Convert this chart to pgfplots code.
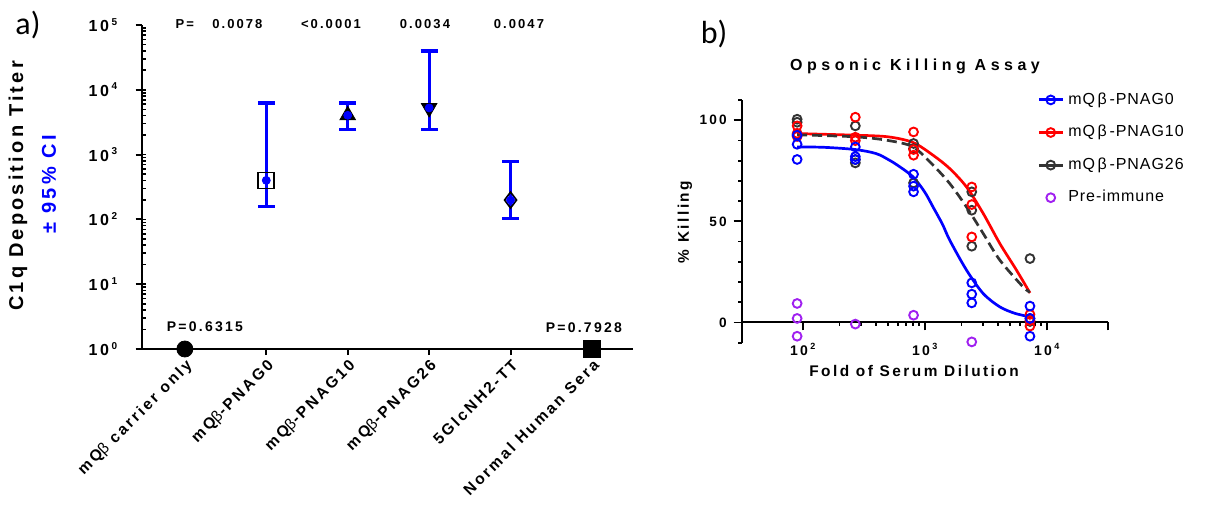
\documentclass[border=0pt]{standalone}
\usepackage{fontspec}
\setmainfont{Liberation Sans}
\newfontfamily\gp[LetterSpace=16]{Liberation Sans}
\newfontfamily\gpn[LetterSpace=6]{Liberation Sans}
\newfontfamily\gpw[LetterSpace=28]{Liberation Sans}
\newfontfamily\panelfont{Carlito}
\usepackage{pgfplots}
\pgfplotsset{compat=1.18}
\definecolor{pre}{RGB}{160,32,240}
\definecolor{dgray}{RGB}{51,51,51}
\newcommand\ex[2][5]{1\,0\,\raisebox{0.75ex}{\fontsize{#1}{#1}\selectfont #2}}
\begin{document}
\begin{tikzpicture}
\path[use as bounding box] (0,0) rectangle (612.5pt,255pt);
% panel labels and axis titles
\node[font=\panelfont\fontsize{16}{16}\selectfont] at (14pt,242.5pt) {a)};
\node[font=\panelfont\fontsize{16}{16}\selectfont] at (357pt,238pt) {b)};
\node[rotate=90,font=\gp\bfseries\fontsize{10}{10}\selectfont] at (9pt,162pt) {C1q Deposition Titer};
\node[rotate=90,font=\gp\bfseries\fontsize{10}{10}\selectfont,blue] at (24.5pt,163pt) {± 95\% CI};
\node[font=\gpw\bfseries\fontsize{8}{8}\selectfont] at (457.5pt,221.6pt) {Opsonic Killing Assay};
\node[font=\gp\bfseries\fontsize{7.7}{8}\selectfont] at (457pt,69.5pt) {Fold of Serum Dilution};
\node[rotate=90,font=\gp\bfseries\fontsize{7.7}{8}\selectfont] at (342.5pt,144pt) {\% Killing};

% ---- a) C1q deposition
\begin{axis}[at={(70.85pt,80.5pt)}, anchor=south west,
  scale only axis, width=245.5pt, height=162pt,
  ymode=log, ymin=1, ymax=1e5, xmin=-0.53, xmax=5.5,
  axis lines*=left, axis line style={line width=1pt},
  clip=false,
  xtick={0,1,2,3,4,5},
  xticklabels={mQ{\mdseries β} carrier only, mQ{\mdseries β}-PNAG0, mQ{\mdseries β}-PNAG10,
    mQ{\mdseries β}-PNAG26, 5GlcNH2-TT, Normal Human Sera},
  xticklabel style={rotate=45, anchor=north east, inner sep=1pt,
    font=\gp\bfseries\fontsize{7.8}{8}\selectfont},
  ytick={1,10,100,1000,10000,100000},
  yticklabels={\ex{0},\ex{1},\ex{2},\ex{3},\ex{4},\ex{5}},
  yticklabel style={font=\gp\bfseries\fontsize{8}{8}\selectfont, inner sep=0pt, xshift=-9pt},
  tick align=outside, major tick length=3pt, minor tick length=2pt,
  tick style={line width=1pt, black},
  minor y tick style={xshift=2pt, line width=0.8pt},
]
\addplot[only marks, mark=*, mark size=4pt, black] coordinates {(0,1)};
\addplot[only marks, mark=square*, mark size=4.25pt, black] coordinates {(5,1)};
\addplot[only marks, mark=square, mark size=4pt, black, mark options={line width=0.8pt}] coordinates {(1,400)};
\addplot[only marks, mark=triangle*, mark size=4.5pt, black] coordinates {(2,4040)};
\addplot[only marks, mark=triangle*, mark size=4.5pt, black, mark options={rotate=180}] coordinates {(3,5250)};
\addplot[only marks, mark=diamond, mark size=4pt, black, mark options={line width=0.8pt}] coordinates {(4,199)};
% 95% CI
\addplot[blue, only marks, mark=none,
  error bars/.cd, y dir=both, y explicit,
  error bar style={line width=1.6pt, blue},
  error mark options={rotate=90, mark size=4.25pt, line width=1.6pt, blue}]
  table[x=x, y=y, y error plus=ep, y error minus=em] {
  x y ep em
  1 400 5880 241
  2 4040 2240 1565
  3 5250 34550 2775
  4 199 589 97
  };
\begin{scope}[font=\gp\bfseries\fontsize{6.5}{7}\selectfont]
\node at (axis cs:0,1.035e5) {P=};
\node at (axis cs:0.645,1.035e5) {0.0078};
\node at (axis cs:1.794,1.035e5) {<0.0001};
\node at (axis cs:2.948,1.035e5) {0.0034};
\node at (axis cs:4.103,1.035e5) {0.0047};
\end{scope}
\begin{scope}[font=\gp\bfseries\fontsize{7}{7}\selectfont]
\node at (axis cs:0.246,2.18) {P=0.6315};
\node at (axis cs:4.90,2.16) {P=0.7928};
\end{scope}
\end{axis}

% ---- b) opsonic killing
\begin{axis}[at={(370.85pt,83.65pt)}, anchor=south west,
  scale only axis, width=183pt, height=121.35pt,
  xmode=log, xmin=31.62, xmax=31623, ymin=-10, ymax=110,
  axis y line=left, axis x line=middle,
  axis line style={-, line width=1pt},
  clip=false,
  ytick={0,50,100}, yticklabels={0,50,100},
  minor ytick={-10,10,20,30,40,60,70,80,90,110},
  yticklabel style={font=\gp\bfseries\fontsize{6.8}{7}\selectfont},
  xtick={100,1000,10000},
  xticklabels={\ex[4.5]{2},\ex[4.5]{3},\ex[4.5]{4}},
  extra x ticks={31623}, extra x tick labels={},
  xticklabel style={font=\gp\bfseries\fontsize{7}{7}\selectfont, yshift=-3pt},
  tick align=outside, major tick length=4pt, minor tick length=1.7pt,
  tick style={line width=0.9pt, black},
  legend style={at={(0.79,1.065)}, anchor=north west, draw=none, fill=none,
    font=\gpn\fontsize{8}{8}\selectfont, row sep=5pt,
    legend cell align=left},
  legend image code/.code={\draw[mark repeat=2, mark phase=2, #1]
    plot coordinates {(0pt,0pt) (6pt,0pt) (12pt,0pt)};},
]
\addlegendimage{blue, line width=1.5pt, mark=o, mark size=2.2pt, mark options={line width=0.95pt, fill=white}}
\addlegendentry{mQ\,β\,-PNAG0}
\addlegendimage{red, line width=1.5pt, mark=o, mark size=2.2pt, mark options={line width=0.95pt, fill=white}}
\addlegendentry{mQ\,β\,-PNAG10}
\addlegendimage{dgray, line width=1.5pt, mark=o, mark size=2.2pt, mark options={line width=0.95pt, fill=white}}
\addlegendentry{mQ\,β\,-PNAG26}
\addlegendimage{only marks, pre, mark=o, mark size=2.2pt, mark options={line width=0.95pt}}
\addlegendentry{Pre-immune}
% fitted curves
\addplot[forget plot, blue, line width=1.35pt, smooth] coordinates {
 (90,86.8) (150,86.6) (270,85.5) (400,83.5) (515,80.2) (624,77) (802,72) (1000,64.5)
 (1170,57.1) (1400,48.5) (1603,40.7) (2201,25.9) (3016,14.3) (4131,7.7) (5500,4.5) (7290,2.8)};
\addplot[forget plot, red, line width=1.35pt, smooth] coordinates {
 (90,93.4) (270,92.6) (500,91.8) (802,89) (1170,82.7) (1603,76.1) (2201,67) (3016,53.9)
 (4131,39) (5650,25.9) (7290,14.6)};
\addplot[forget plot, dgray, line width=1.35pt, dash pattern=on 5pt off 2.5pt, smooth] coordinates {
 (90,92.8) (270,91.8) (500,90) (802,86.8) (1170,77.8) (1603,68.7) (2201,57.1) (3016,44)
 (4131,30.8) (6400,17.6) (7290,15)};
% replicates
\addplot[forget plot, only marks, pre, mark=o, mark size=2.2pt, mark options={line width=0.95pt}] coordinates {
 (90,9.4) (90,2.0) (90,-6.8) (270,-0.8) (810,3.6) (2430,-9.6)};
\addplot[forget plot, only marks, dgray, mark=o, mark size=2.2pt, mark options={line width=0.95pt}] coordinates {
 (90,100.5) (90,99) (90,93) (270,97.2) (270,80.5) (270,78.9) (810,88.5) (810,86) (810,69)
 (2430,64.6) (2430,55.5) (2430,37.7) (7290,31.6) (7290,2) (7290,0.5)};
\addplot[forget plot, only marks, red, mark=o, mark size=2.2pt, mark options={line width=0.95pt}] coordinates {
 (90,97.2) (90,93.5) (90,92) (270,101.5) (270,91.6) (270,89.9) (810,94.2) (810,85.5) (810,82.7)
 (2430,67.0) (2430,58.3) (2430,42.3) (7290,4.0) (7290,1.0) (7290,-1.8)};
\addplot[forget plot, only marks, blue, mark=o, mark size=2.2pt, mark options={line width=0.95pt}] coordinates {
 (90,92.6) (90,88.1) (90,80.6) (270,86.8) (270,82) (270,80.6) (810,73.3) (810,67.4) (810,64.6)
 (2430,19.6) (2430,14.0) (2430,9.7) (7290,8.1) (7290,2) (7290,-6.8)};
\end{axis}
\end{tikzpicture}
\end{document}
